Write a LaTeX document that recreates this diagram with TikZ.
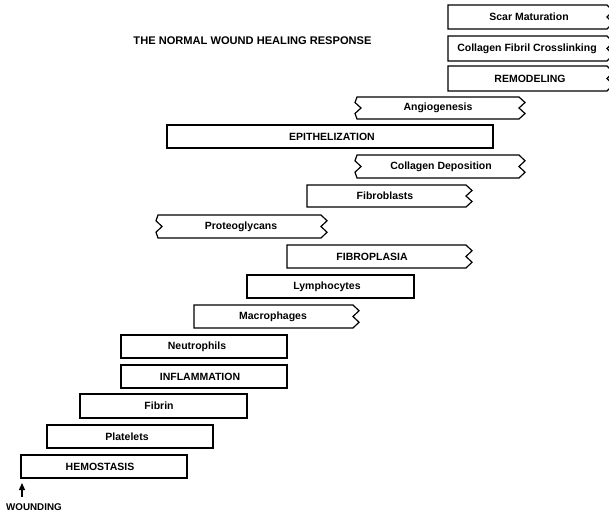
\documentclass[tikz,border=0pt]{standalone}
\usepackage{fontspec}
\setmainfont{Liberation Sans}
\usetikzlibrary{arrows.meta}
\tikzset{
  bx/.style={line width=1.2pt, line join=miter},
  lbl/.style={font=\fontsize{10.5}{12}\selectfont\bfseries, inner sep=0pt},
  ttl/.style={font=\fontsize{11.1}{13}\selectfont\bfseries, inner sep=0pt},
  wnd/.style={font=\fontsize{9.8}{11}\selectfont\bfseries, inner sep=0pt, anchor=west},
}
\newcommand\rz[1]{-- ++(6,{#1/4}) -- ++(-6,{#1/4}) -- ++(6,{#1/4}) -- ++(-6,{#1/4})}
\newcommand\lz[1]{-- ++(-2,{-#1/4}) -- ++(6,{-#1/4}) -- ++(-6,{-#1/4}) -- ++(2,{-#1/4})}
\begin{document}
\begin{tikzpicture}[x=1pt,y=-1pt]
\useasboundingbox (0,0) rectangle (609,516);
\clip (0,0) rectangle (609,516);
\fill[white] (0,0) rectangle (609,516);

\node[ttl] (title) at (252.5,41) {THE NORMAL WOUND HEALING RESPONSE};

% remodeling group (right zigzags cut off by the edge)
\draw[bx] (448,29) -- (448,5) -- (607,5) \rz{24} -- cycle;
\node[lbl] (scar) at (529,17) {Scar Maturation};
\draw[bx] (448,61) -- (448,36) -- (607,36) \rz{25} -- cycle;
\node[lbl] (cfc) at (527,48.5) {Collagen Fibril Crosslinking};
\draw[bx] (448,91) -- (448,66) -- (607,66) \rz{25} -- cycle;
\node[lbl] (remod) at (530,78.5) {REMODELING};

% angiogenesis
\draw[bx] (357,119) \lz{22} -- (519,97) \rz{22} -- cycle;
\node[lbl] (angio) at (438,108) {Angiogenesis};

% epithelization
\draw[bx] (167,125) rectangle (493,148);
\node[lbl] (epi) at (332,136.5) {EPITHELIZATION};

% collagen deposition
\draw[bx] (357,178) \lz{23} -- (519,155) \rz{23} -- cycle;
\node[lbl] (colldep) at (441,166.5) {Collagen Deposition};

% fibroblasts
\draw[bx] (307,207) -- (307,185) -- (466,185) \rz{22} -- cycle;
\node[lbl] (fibroblasts) at (385,196) {Fibroblasts};

% proteoglycans
\draw[bx] (158,238) \lz{23} -- (321,215) \rz{23} -- cycle;
\node[lbl] (proteo) at (241,226.5) {Proteoglycans};

% fibroplasia
\draw[bx] (287,268) -- (287,245) -- (466,245) \rz{23} -- cycle;
\node[lbl] (fibroplasia) at (372,256.5) {FIBROPLASIA};

% lymphocytes
\draw[bx] (247,275) rectangle (414,298);
\node[lbl] (lymph) at (327,286.5) {Lymphocytes};

% macrophages
\draw[bx] (194,328) -- (194,305) -- (353,305) \rz{23} -- cycle;
\node[lbl] (macro) at (273,316.5) {Macrophages};

% neutrophils
\draw[bx] (121,335) rectangle (287,358);
\node[lbl] (neut) at (197,346.5) {Neutrophils};

% inflammation
\draw[bx] (121,365) rectangle (287,388);
\node[lbl] (infl) at (200,376.5) {INFLAMMATION};

% fibrin
\draw[bx] (80,394) rectangle (247,418);
\node[lbl] (fibrin) at (159,406) {Fibrin};

% platelets
\draw[bx] (47,425) rectangle (213,448);
\node[lbl] (platelets) at (127,436.5) {Platelets};

% hemostasis
\draw[bx] (21,455) rectangle (187,478);
\node[lbl] (hemo) at (100,466.5) {HEMOSTASIS};

% wounding
\node[wnd] (wounding) at (6,507.5) {WOUNDING};
\coordinate (wtail) at (22,497);
\coordinate (whead) at (22,483);
\draw[line width=1.3pt, -{Triangle[width=6pt,length=7pt]}] (wtail) -- (whead);
\end{tikzpicture}
\end{document}
